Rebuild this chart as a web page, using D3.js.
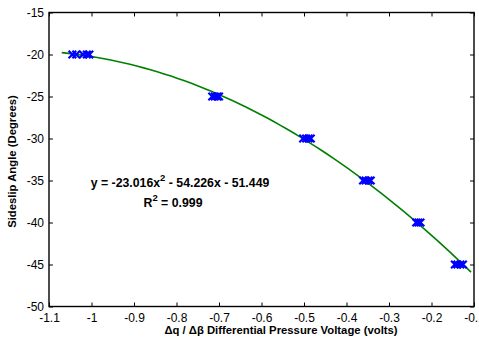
<!DOCTYPE html>
<html>
<head>
<meta charset="utf-8">
<script src="https://cdn.jsdelivr.net/npm/d3@7"></script>
<style>
  html, body { margin: 0; padding: 0; background: #fff; }
  svg { display: block; font-family: Arial, "Liberation Sans", sans-serif; }
</style>
</head>
<body>
<svg id="chart" width="479" height="341"></svg>
<script>
// Calibration samples: differential pressure voltage vs. sideslip angle
const voltage = [
  -1.045, -1.036, -1.020, -1.011, -1.005,
  -0.716, -0.710, -0.704, -0.700,
  -0.502, -0.495, -0.489, -0.484,
  -0.361, -0.355, -0.348, -0.343,
  -0.236, -0.231, -0.226,
  -0.145, -0.139, -0.132, -0.126
];
const angle = [
  -20, -20, -20, -20, -20,
  -25, -25, -25, -25,
  -30, -30, -30, -30,
  -35, -35, -35, -35,
  -40, -40, -40,
  -45, -45, -45, -45
];
// Quadratic fit coefficients [a, b, c] for y = a x^2 + b x + c
const fitCoef = [-23.016, -54.226, -51.449];
const fitRange = [-1.07, -0.107];
const xTicks = [-1.1, -1, -0.9, -0.8, -0.7, -0.6, -0.5, -0.4, -0.3, -0.2, -0.1];
const yTicks = [-50, -45, -40, -35, -30, -25, -20, -15];

const svg = d3.select("#chart");
const m = { left: 49, right: 474, top: 12.5, bottom: 306.5 };

const x = d3.scaleLinear().domain([-1.1, -0.1]).range([m.left, m.right]);
const y = d3.scaleLinear().domain([-50, -15]).range([m.bottom, m.top]);

// Tick marks on all four sides pointing inward, labels on bottom and left
const tickLen = 4;
const fmt = d => String(d);

const axBottom = svg.append("g").attr("transform", `translate(0,${m.bottom})`)
  .call(d3.axisBottom(x).tickValues(xTicks).tickSizeInner(-tickLen).tickSizeOuter(0).tickPadding(7).tickFormat(fmt));
const axLeft = svg.append("g").attr("transform", `translate(${m.left},0)`)
  .call(d3.axisLeft(y).tickValues(yTicks).tickSizeInner(-tickLen).tickSizeOuter(0).tickPadding(5).tickFormat(fmt));
const axTop = svg.append("g").attr("transform", `translate(0,${m.top})`)
  .call(d3.axisTop(x).tickValues(xTicks).tickSizeInner(-tickLen).tickSizeOuter(0).tickFormat(""));
const axRight = svg.append("g").attr("transform", `translate(${m.right},0)`)
  .call(d3.axisRight(y).tickValues(yTicks).tickSizeInner(-tickLen).tickSizeOuter(0).tickFormat(""));

[axBottom, axLeft, axTop, axRight].forEach(g => {
  g.select(".domain").remove();
  g.selectAll(".tick line").attr("stroke", "#000").attr("stroke-width", 1);
  g.selectAll(".tick text").attr("fill", "#000").attr("font-size", 12);
});

// Frame
svg.append("rect")
  .attr("x", m.left).attr("y", m.top)
  .attr("width", m.right - m.left).attr("height", m.bottom - m.top)
  .attr("fill", "none").attr("stroke", "#000").attr("stroke-width", 1.4);

// Fitted curve
const fitX = d3.range(0, 61).map(i => fitRange[0] + (fitRange[1] - fitRange[0]) * i / 60);
const fitY = fitX.map(v => fitCoef[0] * v * v + fitCoef[1] * v + fitCoef[2]);
svg.append("path")
  .datum(fitX.map((v, i) => [v, fitY[i]]))
  .attr("fill", "none").attr("stroke", "#008000").attr("stroke-width", 1.6)
  .attr("d", d3.line().x(d => x(d[0])).y(d => y(d[1])));

// Sample markers
const s = 3.8;
const pts = voltage.map((v, i) => [v, angle[i]]);
svg.append("g").selectAll("path").data(pts).join("path")
  .attr("d", d => {
    const cx = x(d[0]), cy = y(d[1]);
    return `M${cx - s},${cy - s}L${cx + s},${cy + s}M${cx - s},${cy + s}L${cx + s},${cy - s}`;
  })
  .attr("stroke", "#0000ff").attr("stroke-width", 2.2).attr("fill", "none");

// Fit equation
const eq = svg.append("text").attr("x", 180).attr("y", 187)
  .attr("text-anchor", "middle").attr("font-size", 12.3).attr("font-weight", "bold").attr("fill", "#000");
eq.append("tspan").text("y = -23.016x");
eq.append("tspan").attr("dy", -6).attr("font-size", 9.5).text("2");
eq.append("tspan").attr("dy", 6).text(" - 54.226x - 51.449");

const r2 = svg.append("text").attr("x", 173).attr("y", 207)
  .attr("text-anchor", "middle").attr("font-size", 12.3).attr("font-weight", "bold").attr("fill", "#000");
r2.append("tspan").text("R");
r2.append("tspan").attr("dy", -6).attr("font-size", 9.5).text("2");
r2.append("tspan").attr("dy", 6).text(" = 0.999");

// Axis titles
svg.append("text")
  .attr("x", 281).attr("y", 334)
  .attr("text-anchor", "middle").attr("font-size", 11.3).attr("font-weight", "bold").attr("fill", "#000")
  .text("\u0394q / \u0394\u03b2 Differential Pressure Voltage (volts)");

svg.append("text")
  .attr("transform", `translate(16,${(m.top + m.bottom) / 2 + 2}) rotate(-90)`)
  .attr("text-anchor", "middle").attr("font-size", 11.3).attr("font-weight", "bold").attr("fill", "#000")
  .text("Sideslip Angle (Degrees)");
</script>
</body>
</html>
